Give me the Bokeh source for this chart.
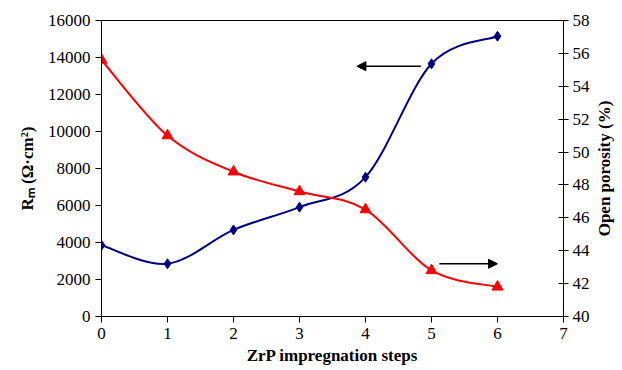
import numpy as np
from bokeh.plotting import figure
from bokeh.layouts import row
from bokeh.models import Range1d, LinearAxis, FixedTicker, Arrow, NormalHead, Title
from bokeh.embed import file_html
from bokeh.resources import INLINE

steps = [0, 1, 2, 3, 4, 5, 6]
rm_values = [3850, 2850, 4680, 5910, 7530, 13660, 15150]
porosity = [55.6, 51.0, 48.8, 47.6, 46.5, 42.8, 41.8]
x_ticks = [0, 1, 2, 3, 4, 5, 6, 7]
left_ticks = [0, 2000, 4000, 6000, 8000, 10000, 12000, 14000, 16000]
right_ticks = [40, 42, 44, 46, 48, 50, 52, 54, 56, 58]

FONT = "Liberation Serif"

p = figure(width=593, height=370, output_backend="svg", toolbar_location=None,
           x_range=Range1d(0, 7), y_range=Range1d(0, 16000),
           min_border_left=101, min_border_right=30, min_border_top=20, min_border_bottom=54)
p.extra_y_ranges = {"right": Range1d(40, 58)}
p.xgrid.visible = False
p.ygrid.visible = False
p.outline_line_color = "black"
p.outline_line_width = 1
p.background_fill_color = "white"
p.border_fill_color = "white"


def smooth(xs, ys):
    xs = np.asarray(xs, float)
    ys = np.asarray(ys, float)
    n = len(xs)
    px = np.concatenate([[xs[0]], xs, [xs[-1]]])
    py = np.concatenate([[ys[0]], ys, [ys[-1]]])
    segs = dict(x0=[], y0=[], x1=[], y1=[], cx0=[], cy0=[], cx1=[], cy1=[])
    for i in range(1, n):
        p0x, p0y = px[i - 1], py[i - 1]
        p1x, p1y = px[i], py[i]
        p2x, p2y = px[i + 1], py[i + 1]
        p3x, p3y = px[i + 2], py[i + 2]
        segs["x0"].append(p1x); segs["y0"].append(p1y)
        segs["x1"].append(p2x); segs["y1"].append(p2y)
        segs["cx0"].append(p1x + (p2x - p0x) / 6); segs["cy0"].append(p1y + (p2y - p0y) / 6)
        segs["cx1"].append(p2x - (p3x - p1x) / 6); segs["cy1"].append(p2y - (p3y - p1y) / 6)
    return segs


b = smooth(steps, rm_values)
p.bezier(**b, line_color="#000080", line_width=2)
p.scatter(steps, rm_values, marker="diamond", size=10, fill_color="#000080", line_color="#000080")

r = smooth(steps, porosity)
p.bezier(**r, line_color="#FF0000", line_width=2, y_range_name="right")
p.scatter(steps, porosity, marker="triangle", size=11, fill_color="#FF0000", line_color="#FF0000",
          y_range_name="right")

# arrows
p.add_layout(Arrow(end=NormalHead(size=9, fill_color="black", line_color="black"),
                   x_start=4.84, y_start=13530, x_end=3.87, y_end=13530,
                   line_color="black", line_width=1.5))
p.add_layout(Arrow(end=NormalHead(size=9, fill_color="black", line_color="black"),
                   x_start=5.12, y_start=2850, x_end=6.0, y_end=2850,
                   line_color="black", line_width=1.5))

# axes styling
xa = p.xaxis[0]
xa.ticker = FixedTicker(ticks=x_ticks)
xa.axis_label = "ZrP impregnation steps"
ya = p.yaxis[0]
ya.ticker = FixedTicker(ticks=left_ticks)
ya.axis_label = "Rₘ (Ω·cm²)"

ra = LinearAxis(y_range_name="right", ticker=FixedTicker(ticks=right_ticks))
p.add_layout(ra, "right")

for ax in (xa, ya, ra):
    ax.axis_line_color = "black"
    ax.axis_line_width = 1
    ax.major_tick_line_color = "black"
    ax.minor_tick_line_color = None
    ax.major_label_text_font = FONT
    ax.major_label_text_font_size = "17px"
    ax.major_label_text_color = "black"
    ax.axis_label_text_font = FONT
    ax.axis_label_text_font_size = "17px"
    ax.axis_label_text_font_style = "bold"
    ax.axis_label_text_color = "black"

xa.major_tick_out = 6
xa.major_tick_in = 0
xa.axis_label_standoff = 4
ya.major_tick_out = 6
ya.major_tick_in = 0
ya.axis_label_standoff = 8
ra.major_tick_out = 5
ra.major_tick_in = 5
ra.major_label_standoff = 4

# thin side panel carrying the right axis title (reads bottom-to-top)
side = figure(width=29, height=370, output_backend="svg", toolbar_location=None,
              x_axis_location=None, y_axis_location=None,
              min_border_left=0, min_border_right=0, min_border_top=20, min_border_bottom=54)
side.outline_line_color = None
side.xgrid.visible = False
side.ygrid.visible = False
side.border_fill_color = "white"
side.background_fill_color = "white"
side.add_layout(Title(text="Open porosity (%)", align="center", vertical_align="middle",
                      text_font=FONT, text_font_size="17px", text_font_style="bold",
                      text_color="black", standoff=0, offset=0), "left")

layout = row(p, side)

open("out.html", "w").write(file_html(layout, INLINE))
